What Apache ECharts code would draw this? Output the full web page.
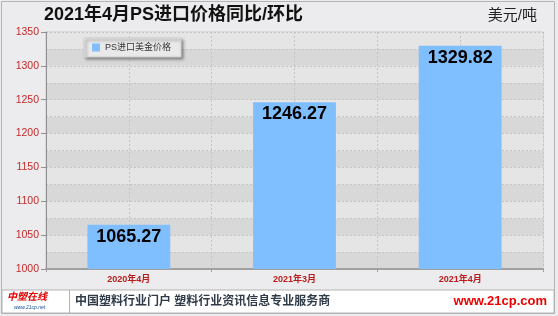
<!DOCTYPE html>
<html>
<head>
<meta charset="utf-8">
<script src="https://cdn.jsdelivr.net/npm/echarts@6/dist/echarts.min.js"></script>
<style>
html,body{margin:0;padding:0;background:#ececee;}
#c{width:558px;height:316px;}
</style>
</head>
<body>
<div id="c"></div>
<script>
var categories = ['2020年4月', '2021年3月', '2021年4月'];
var values = [1065.27, 1246.27, 1329.82];
var seriesName = 'PS进口美金价格';
var titleText = '2021年4月PS进口价格同比/环比';
var unitText = '美元/吨';
var yMin = 1000, yMax = 1350, yStep = 50, bandStep = 25;

var chart = echarts.init(document.getElementById('c'));
var font = 'Arial, "Liberation Sans", "Noto Sans CJK SC", sans-serif';
chart.setOption({
  backgroundColor: '#ececee',
  animation: false,
  textStyle: {fontFamily: font},
  graphic: [
    {type: 'rect', shape: {x: 1.5, y: 1.5, width: 553, height: 312}, style: {fill: 'none', stroke: '#b4b4b4', lineWidth: 1}, z: 0},
    {type: 'rect', shape: {x: 2, y: 290, width: 552, height: 23}, style: {fill: '#ffffff', stroke: '#b4b4b4', lineWidth: 1}, z: 0},
    {type: 'line', shape: {x1: 69.5, y1: 290, x2: 69.5, y2: 313}, style: {stroke: '#b4b4b4', lineWidth: 1}, z: 1},
    {type: 'text', left: 44, top: 6, style: {text: titleText, font: 'bold 18px ' + font, fill: '#111'}, z: 5},
    {type: 'text', right: 21, top: 8, style: {text: unitText, font: '15px ' + font, fill: '#222'}, z: 5},
    {type: 'text', left: 7, top: 292, style: {text: '中塑在线', font: 'italic bold 10px ' + font, fill: '#e00000'}, z: 5},
    {type: 'text', left: 14, top: 305, style: {text: 'www.21cp.net', font: 'italic 5px ' + font, fill: '#1a4fa0'}, z: 5},
    {type: 'text', left: 75, top: 296, style: {text: '中国塑料行业门户 塑料行业资讯信息专业服务商', font: 'bold 12px ' + font, fill: '#2f3b48'}, z: 5},
    {type: 'text', right: 11, top: 295, style: {text: 'www.21cp.com', font: 'bold 13px ' + font, fill: '#ee0000'}, z: 5}
  ],
  legend: {
    show: true,
    left: 84, top: 38,
    padding: [5, 10, 5, 8],
    backgroundColor: '#e9e9e9',
    borderColor: '#d0d0d0', borderWidth: 1,
    shadowColor: 'rgba(0,0,0,0.45)', shadowBlur: 3, shadowOffsetX: 2, shadowOffsetY: 2,
    itemWidth: 8, itemHeight: 8, itemGap: 5,
    icon: 'rect',
    textStyle: {fontSize: 9, color: '#333', fontFamily: font},
    data: [seriesName]
  },
  grid: {left: 46, right: 15, top: 32, bottom: 47, show: true, borderColor: '#c8c8c8', borderWidth: 1, backgroundColor: 'transparent'},
  xAxis: [
    {
      type: 'category', data: categories,
      axisLine: {lineStyle: {color: '#a0a0a0', width: 2}},
      axisTick: {show: true, length: 3, lineStyle: {color: '#a0a0a0'}},
      axisLabel: {color: '#b81c1c', fontSize: 9, fontWeight: 'bold', margin: 6},
      splitLine: {show: false}
    },
    {
      type: 'value', min: 0, max: 6, interval: 1, position: 'top',
      axisLine: {show: false}, axisTick: {show: false}, axisLabel: {show: false},
      splitLine: {show: true, lineStyle: {color: '#c4c4c4', type: [2, 2], width: 1}}
    }
  ],
  yAxis: [
    {
      type: 'value', min: yMin, max: yMax, interval: yStep,
      axisLine: {show: true, lineStyle: {color: '#909090'}},
      axisTick: {show: true, length: 5, lineStyle: {color: '#909090'}},
      axisLabel: {color: '#c42a2a', fontSize: 10.5, margin: 7, formatter: function (v) { return String(v); }},
      splitLine: {show: false}, splitArea: {show: false}
    },
    {
      type: 'value', min: yMin, max: yMax, interval: bandStep, position: 'right',
      axisLine: {show: false}, axisTick: {show: false}, axisLabel: {show: false},
      splitLine: {show: true, lineStyle: {color: '#c4c4c4', type: [2, 2], width: 1}},
      splitArea: {show: true, areaStyle: {color: ['#d8d8d8', '#e5e5e5']}}
    }
  ],
  series: [{
    name: seriesName, type: 'bar', data: values,
    xAxisIndex: 0, yAxisIndex: 0,
    barWidth: '50%',
    itemStyle: {color: '#80bfff'},
    label: {show: true, position: 'insideTop', distance: 3, color: '#000', fontSize: 18, fontWeight: 'bold',
      formatter: function (p) { return p.value.toFixed(2); }}
  }]
});
</script>
</body>
</html>
